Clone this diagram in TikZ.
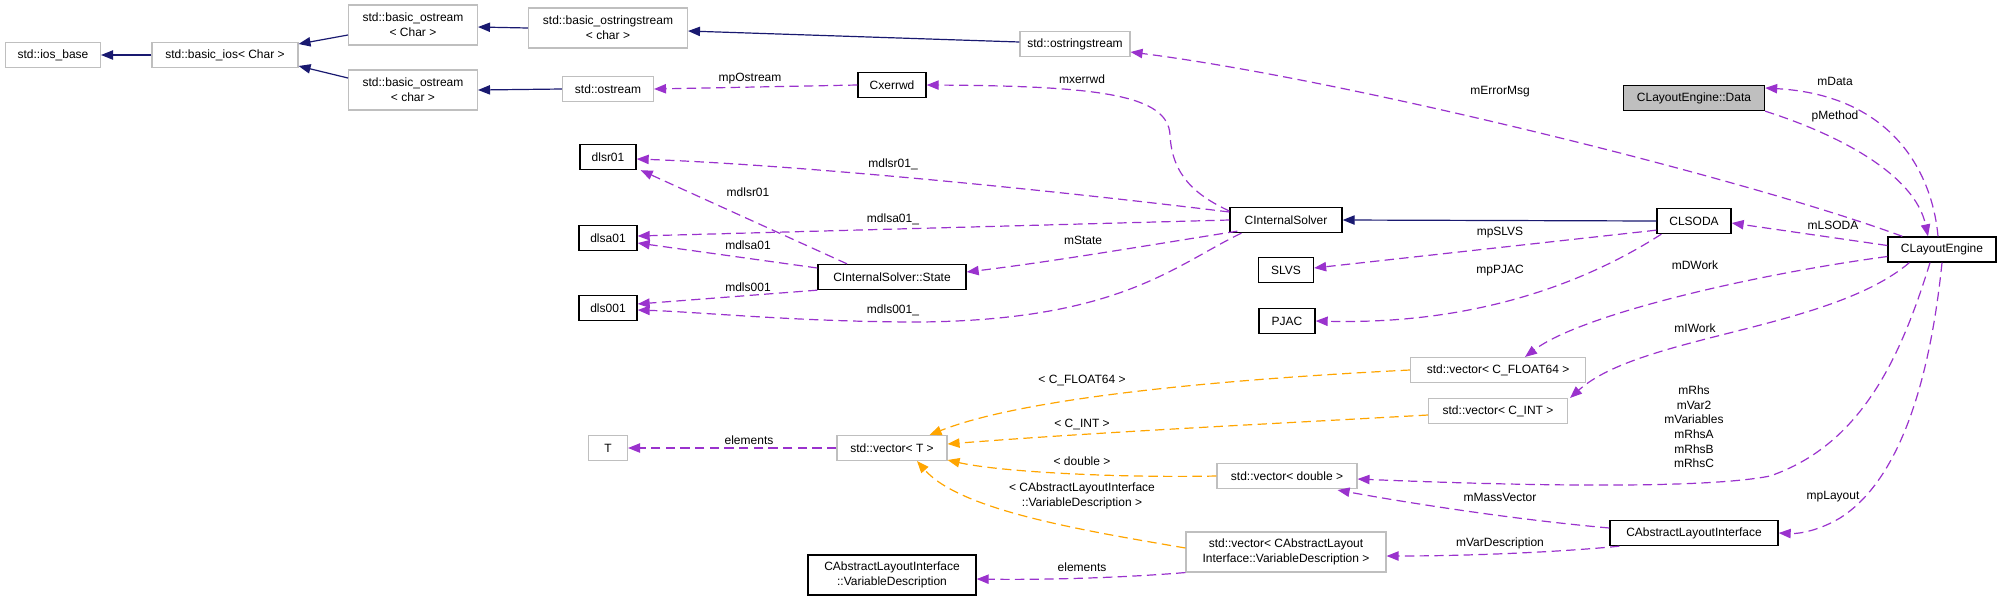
\documentclass[tikz,border=0pt]{standalone}
\usepackage{fontspec}
\setmainfont{Liberation Sans}
\usetikzlibrary{arrows.meta,calc}
\definecolor{edgepurple}{HTML}{9A32CD}
\definecolor{inhblue}{HTML}{191970}
\definecolor{tplorange}{HTML}{FFA500}
\definecolor{boxgray}{HTML}{BFBFBF}
\begin{document}
\begin{tikzpicture}[x=0.75pt,y=-0.75pt,
  box/.style={draw, rectangle, inner sep=0pt, minimum height=18.75pt, align=center, font=\fontsize{9}{11}\selectfont},
  gbox/.style={box, draw=boxgray, line width=0.8pt},
  bbox/.style={box, draw=black, line width=1pt},
  two/.style={minimum height=30pt},
  bw/.style={minimum width=#1*0.75pt},
  arr/.style={-{Triangle[length=9pt,width=7pt]}, line width=0.9pt},
  inh/.style={arr, draw=inhblue, fill=none},
  use/.style={arr, draw=edgepurple, dash pattern=on 7pt off 4pt},
  tpl/.style={arr, draw=tplorange, dash pattern=on 7pt off 4pt},
  lbl/.style={inner sep=0pt, align=center, font=\fontsize{9}{11}\selectfont}]
\useasboundingbox (0,0) rectangle (2003,601);
% gray nodes
\node[gbox,bw=95] (ios) at (53,55) {std::ios\_base};
\node[gbox,bw=146] (bios) at (225,55) {std::basic\_ios< Char >};
\node[gbox,bw=129,two] (bosC) at (413,25) {std::basic\_ostream\\< Char >};
\node[gbox,bw=129,two] (bosc) at (413,90) {std::basic\_ostream\\< char >};
\node[gbox,bw=159,two] (bossc) at (608,28) {std::basic\_ostringstream\\< char >};
\node[gbox,bw=91] (ostream) at (608,89) {std::ostream};
\node[gbox,bw=110] (ossm) at (1075,44) {std::ostringstream};
\node[gbox,bw=39] (T) at (608,448) {T};
\node[gbox,bw=110] (vecT) at (892,448) {std::vector< T >};
\node[gbox,bw=175] (vecF) at (1498,370) {std::vector< C\_FLOAT64 >};
\node[gbox,bw=139] (vecI) at (1498,411) {std::vector< C\_INT >};
\node[gbox,bw=140] (vecD) at (1287,476) {std::vector< double >};
\node[gbox,bw=200,two] (vecV) at (1286,552) {std::vector< CAbstractLayout\\Interface::VariableDescription >};
% black nodes
\node[bbox,bw=68] (cxerrwd) at (892,85) {Cxerrwd};
\node[bbox,bw=56] (dlsr) at (608,157) {dlsr01};
\node[bbox,bw=58] (dlsa) at (608,238) {dlsa01};
\node[bbox,bw=58] (dls) at (608,308) {dls001};
\node[bbox,bw=112] (cis) at (1286,220) {CInternalSolver};
\node[bbox,bw=148] (state) at (892,277) {CInternalSolver::State};
\node[bbox,bw=55] (slvs) at (1286,270) {SLVS};
\node[bbox,bw=56] (pjac) at (1287,321) {PJAC};
\node[bbox,bw=74] (clsoda) at (1694,221) {CLSODA};
\node[bbox,bw=108] (cle) at (1942,249.5) {CLayoutEngine};
\node[bbox,bw=141,fill=boxgray] (data) at (1694,98) {CLayoutEngine::Data};
\node[bbox,bw=168] (cali) at (1694,533) {CAbstractLayoutInterface};
\node[bbox,bw=168,two] (cvd) at (892,575) {CAbstractLayoutInterface\\::VariableDescription};
% inheritance
\draw[inh] (bios.west) -- (ios.east);
\draw[inh] ($(bosC.west)+(0,10)$) -- ($(bios.east)+(0,-11)$);
\draw[inh] ($(bosc.west)+(0,-12)$) -- ($(bios.east)+(0,11)$);
\draw[inh] (bossc.west) -- ($(bosC.east)+(0,2)$);
\draw[inh] (ostream.west) -- (bosc.east);
\draw[inh] ($(ossm.west)+(0,-2)$) -- ($(bossc.east)+(0,3)$);
\draw[inh] (clsoda.west) -- (cis.east);
% usage
\draw[use] (cxerrwd.west) -- (ostream.east);
\draw[use] ($(cis.west)+(0,-9)$) .. controls (1195,195) and (1172,175) .. (1170,135) .. controls (1168,95) and (1100,86) .. (cxerrwd.east);
\draw[use] ($(cle.north west)+(15,0)$) .. controls (1750,180) and (1350,80) .. ($(ossm.east)+(0,8)$);
\draw[use] ($(cle.north)+(-4,0)$) .. controls (1932,170) and (1890,95) .. ($(data.east)+(0,-10)$);
\draw[use] (data.south east) .. controls (1840,135) and (1915,175) .. ($(cle.north)+(-14,0)$);
\draw[use] ($(cle.west)+(0,-4)$) -- ($(clsoda.east)+(0,2)$);
\draw[use] ($(clsoda.south west)+(0,-4)$) -- ($(slvs.east)+(0,-2)$);
\draw[use] ($(clsoda.south west)+(5,0)$) .. controls (1590,280) and (1480,325) .. (pjac.east);
\draw[use] ($(cle.west)+(0,7)$) .. controls (1750,275) and (1580,315) .. ($(vecF.north)+(27,0)$);
\draw[use] ($(cle.south west)+(22,0)$) .. controls (1830,330) and (1640,335) .. ($(vecI.north east)+(2,0)$);
\draw[use] ($(cle.south)+(-12,0)$) .. controls (1900,360) and (1860,445) .. (1770,476) .. controls (1700,490) and (1500,485) .. ($(vecD.east)+(0,3)$);
\draw[use] (cle.south) .. controls (1930,380) and (1900,480) .. (1840,518) .. controls (1820,530) and (1800,534) .. (cali.east);
\draw[use] ($(cali.west)+(0,-5)$) .. controls (1520,520) and (1420,505) .. ($(vecD.south east)+(-20,1)$);
\draw[use] ($(cali.south west)+(10,0)$) .. controls (1560,552) and (1470,556) .. ($(vecV.east)+(0,4)$);
\draw[use] (vecV.south west) .. controls (1120,578) and (1040,580) .. ($(cvd.east)+(0,4)$);
\draw[use] (vecT.west) -- (T.east);
\draw[use] ($(cis.west)+(0,-8)$) .. controls (1050,190) and (800,165) .. ($(dlsr.east)+(0,2)$);
\draw[use] ($(state.north)+(-45,0)$) -- ($(dlsr.south east)+(4,0)$);
\draw[use] (cis.west) -- ($(dlsa.east)+(0,-2)$);
\draw[use] ($(state.west)+(0,-9)$) -- ($(dlsa.east)+(0,5)$);
\draw[use] ($(cis.south west)+(8,-2)$) .. controls (1150,245) and (1050,262) .. ($(state.east)+(0,-5)$);
\draw[use] (state.south west) -- ($(dls.east)+(0,-4)$);
\draw[use] ($(cis.south west)+(12,0)$) .. controls (1175,265) and (1120,320) .. (920,322) .. controls (800,322) and (700,312) .. ($(dls.east)+(0,2)$);
% template
\draw[tpl] (vecF.west) .. controls (1250,378) and (1030,395) .. ($(vecT.north east)+(-18,0)$);
\draw[tpl] ($(vecI.west)+(0,4)$) .. controls (1250,425) and (1100,432) .. ($(vecT.east)+(0,-4)$);
\draw[tpl] (vecD.west) .. controls (1120,478) and (1000,472) .. ($(vecT.east)+(0,12)$);
\draw[tpl] ($(vecV.west)+(0,-4)$) .. controls (1080,530) and (960,510) .. ($(vecT.south)+(25,0)$);
% labels
\node[lbl] (l1) at (750,79) {mpOstream};
\node[lbl] (l2) at (1082,79) {mxerrwd};
\node[lbl] (l3) at (1500,92) {mErrorMsg};
\node[lbl] (l4) at (1835,81) {mData};
\node[lbl] (l5) at (1835,116) {pMethod};
\node[lbl] (l6) at (1833,225) {mLSODA};
\node[lbl] (l7) at (1500,233) {mpSLVS};
\node[lbl] (l8) at (1500,271) {mpPJAC};
\node[lbl] (l9) at (1695,265) {mDWork};
\node[lbl] (l10) at (1695,328) {mIWork};
\node[lbl] (l11) at (1694,427) {mRhs\\mVar2\\mVariables\\mRhsA\\mRhsB\\mRhsC};
\node[lbl] (l12) at (1500,497) {mMassVector};
\node[lbl] (l13) at (1833,497) {mpLayout};
\node[lbl] (l14) at (1500,543) {mVarDescription};
\node[lbl] (l15) at (1082,567) {elements};
\node[lbl] (l16) at (749,440) {elements};
\node[lbl] (l17) at (1082,380) {< C\_FLOAT64 >};
\node[lbl] (l18) at (1082,424) {< C\_INT >};
\node[lbl] (l19) at (1082,461) {< double >};
\node[lbl] (l20) at (1082,496) {< CAbstractLayoutInterface\\::VariableDescription >};
\node[lbl] (l21) at (893,164) {mdlsr01\_};
\node[lbl] (l22) at (748,192) {mdlsr01};
\node[lbl] (l23) at (893,219) {mdlsa01\_};
\node[lbl] (l24) at (748,245) {mdlsa01};
\node[lbl] (l25) at (1083,240) {mState};
\node[lbl] (l26) at (748,287) {mdls001};
\node[lbl] (l27) at (893,310) {mdls001\_};
\end{tikzpicture}
\end{document}
